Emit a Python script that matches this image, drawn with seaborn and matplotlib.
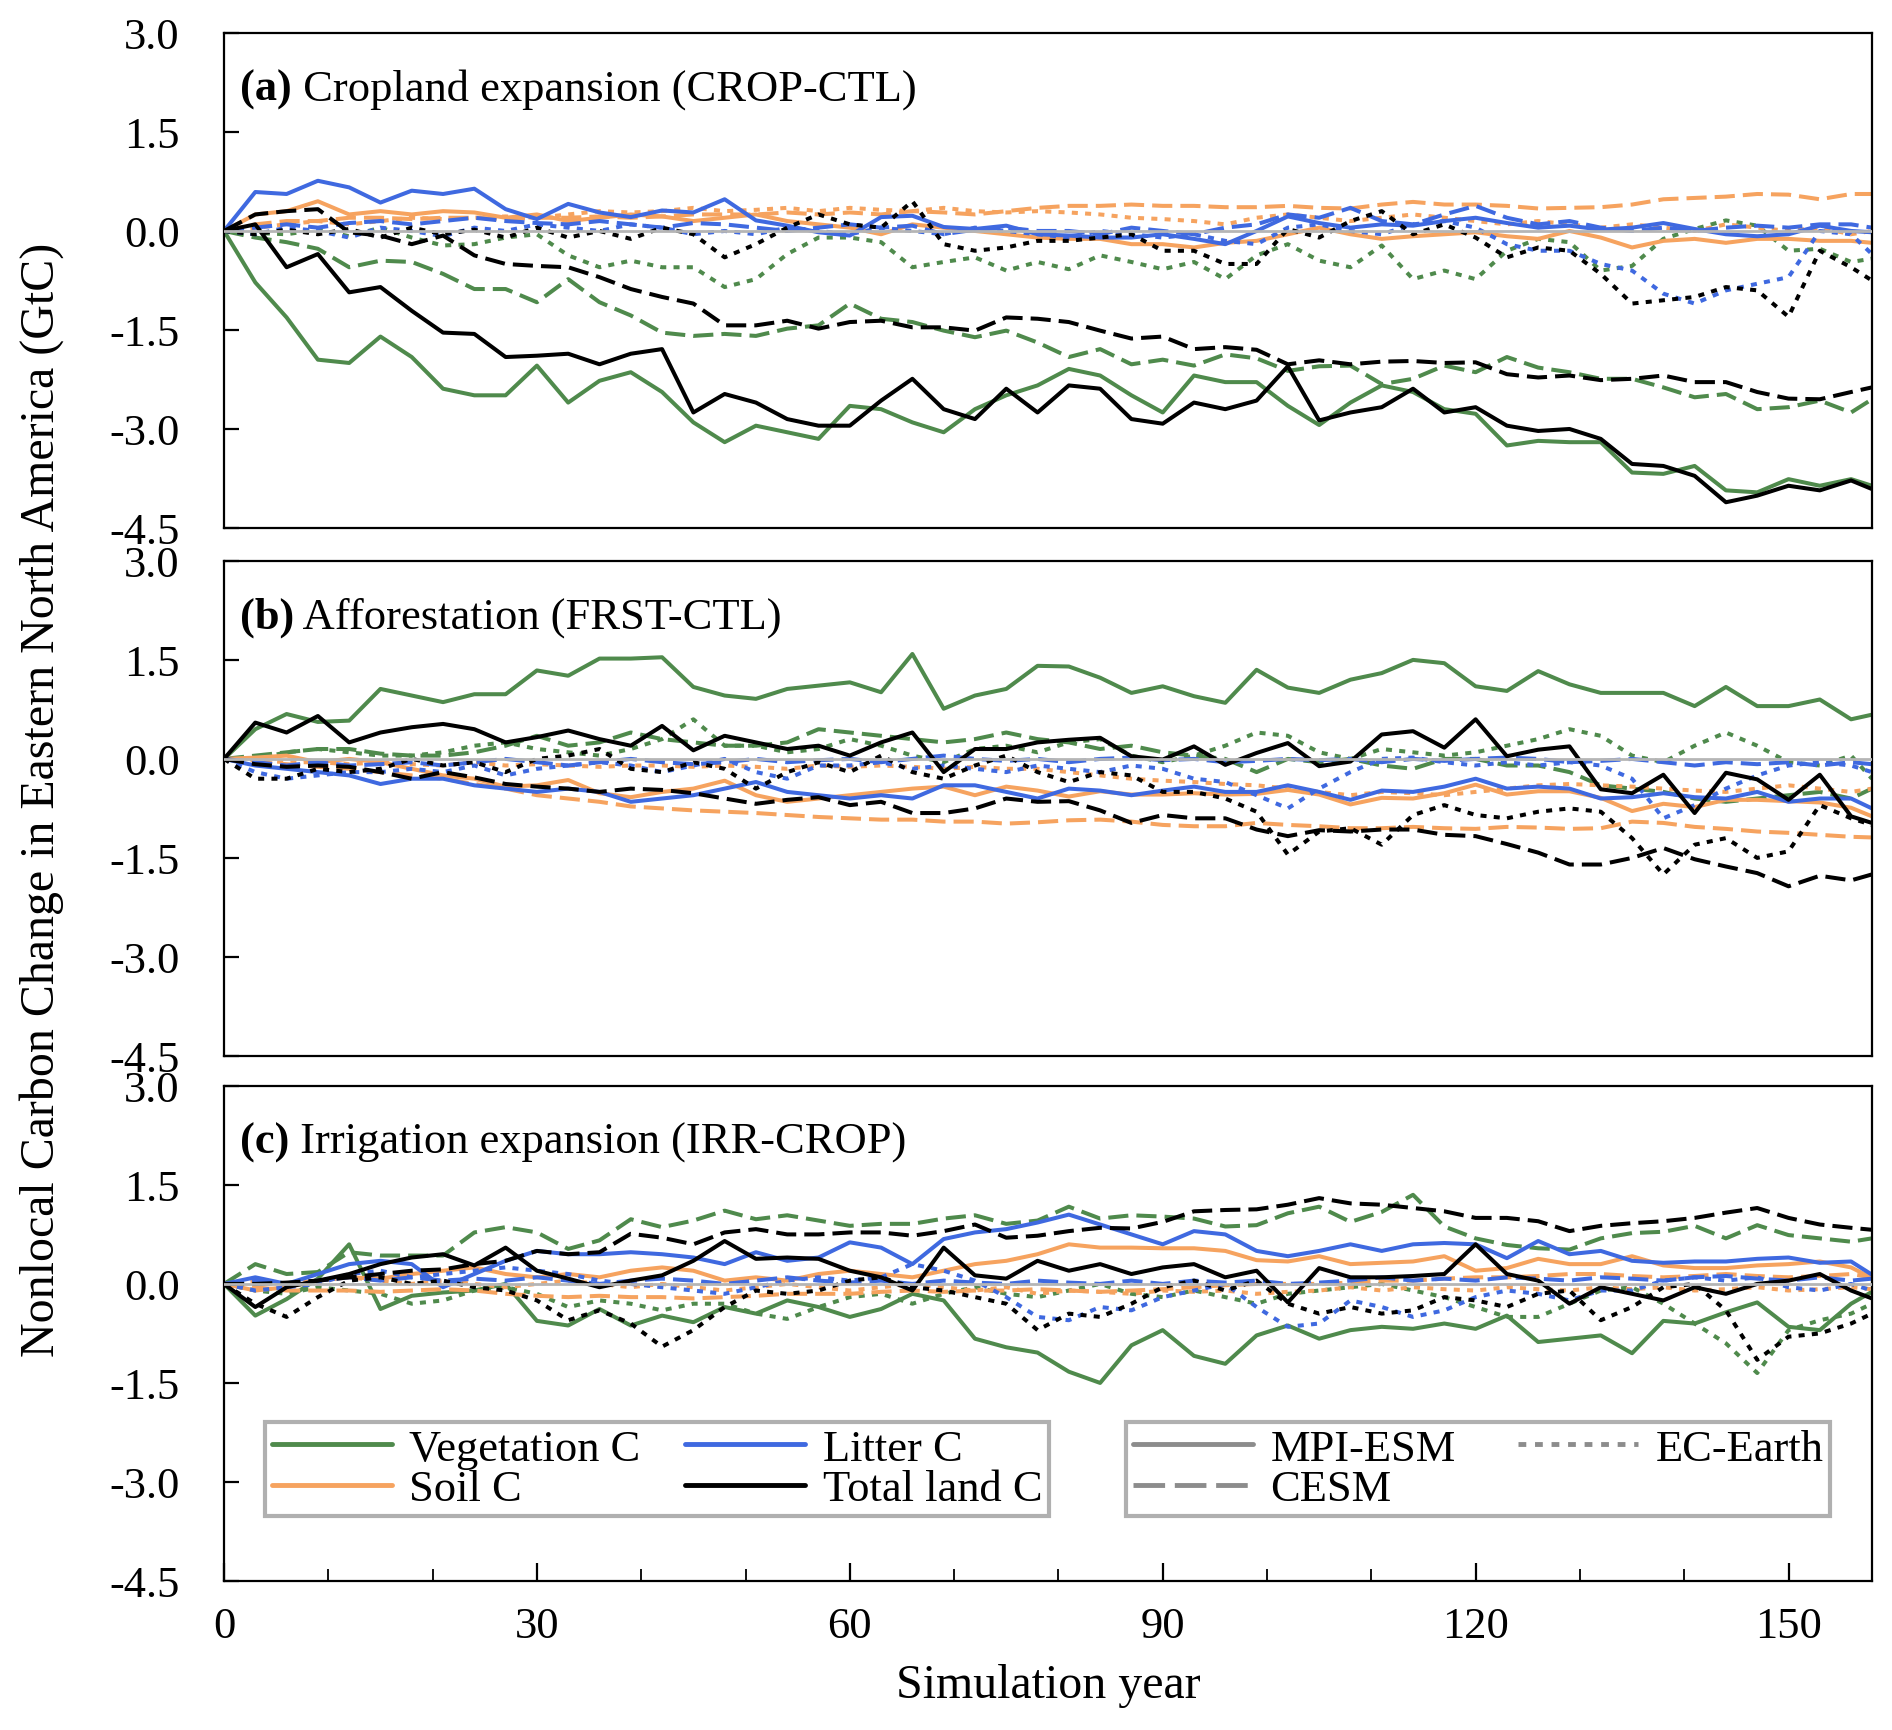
import numpy as np
import pandas as pd
import matplotlib
matplotlib.use("Agg")
import matplotlib.pyplot as plt
from matplotlib.lines import Line2D
from matplotlib.ticker import MultipleLocator, FormatStrFormatter
import seaborn as sns

# ---------------------------------------------------
# Data (every 3 years)
# ---------------------------------------------------
years = list(range(0, 79, 3)) + list(range(81, 157, 3)) + [158]

pools = ["Vegetation C", "Soil C", "Litter C", "Total land C"]
models = ["MPI-ESM", "CESM", "EC-Earth"]

# (a) Cropland expansion (CROP-CTL)
a_veg_mpi = [0, -0.78, -1.31, -1.95, -2.0, -1.6, -1.91, -2.39, -2.49, -2.49, -2.04, -2.6, -2.27, -2.14, -2.44, -2.9, -3.2, -2.95, -3.05, -3.15, -2.65, -2.7, -2.9, -3.05, -2.7, -2.49, -2.34,
             -2.09, -2.19, -2.49, -2.75, -2.19, -2.29, -2.29, -2.65, -2.94, -2.6, -2.34, -2.44, -2.7, -2.77, -3.25, -3.18, -3.2, -3.2, -3.66, -3.68, -3.56, -3.93, -3.96, -3.76, -3.86, -3.76, -3.86]
a_veg_cesm = [0, -0.1, -0.17, -0.27, -0.55, -0.45, -0.47, -0.65, -0.88, -0.88, -1.08, -0.73, -1.08, -1.28, -1.54, -1.59, -1.56, -1.59, -1.48, -1.43, -1.1, -1.33, -1.38, -1.51, -1.61, -1.51, -1.69,
              -1.91, -1.79, -2.02, -1.95, -2.04, -1.87, -1.93, -2.12, -2.05, -2.04, -2.32, -2.24, -2.04, -2.14, -1.91, -2.07, -2.14, -2.24, -2.24, -2.37, -2.52, -2.47, -2.7, -2.67, -2.57, -2.75, -2.55]
a_veg_ec = [0, -0.03, -0.05, 0.02, -0.08, 0.05, -0.1, -0.22, -0.2, -0.1, -0.05, -0.37, -0.55, -0.45, -0.55, -0.55, -0.85, -0.73, -0.35, -0.1, -0.1, -0.17, -0.55, -0.47, -0.4, -0.6, -0.47,
            -0.58, -0.37, -0.47, -0.58, -0.47, -0.73, -0.37, -0.2, -0.45, -0.55, -0.22, -0.73, -0.6, -0.73, -0.3, -0.12, -0.17, -0.6, -0.53, -0.12, 0.03, 0.16, 0.08, -0.3, -0.27, -0.47, -0.42]
a_soil_mpi = [0, 0.25, 0.3, 0.45, 0.25, 0.3, 0.25, 0.3, 0.28, 0.2, 0.25, 0.15, 0.2, 0.25, 0.22, 0.15, 0.2, 0.25, 0.15, 0.1, 0.05, -0.05, 0.1, 0.05, 0.0, -0.05, -0.1,
              -0.12, -0.12, -0.2, -0.2, -0.25, -0.18, -0.15, -0.05, 0.05, -0.05, -0.12, -0.08, -0.05, -0.02, -0.08, -0.12, 0.0, -0.1, -0.25, -0.15, -0.12, -0.18, -0.12, -0.12, -0.15, -0.15, -0.18]
a_soil_cesm = [0, 0.1, 0.15, 0.15, 0.2, 0.2, 0.18, 0.2, 0.2, 0.18, 0.2, 0.2, 0.22, 0.2, 0.22, 0.25, 0.25, 0.25, 0.28, 0.25, 0.28, 0.25, 0.3, 0.28, 0.25, 0.3, 0.35,
               0.38, 0.38, 0.4, 0.38, 0.38, 0.36, 0.36, 0.38, 0.35, 0.34, 0.4, 0.44, 0.4, 0.4, 0.38, 0.34, 0.35, 0.36, 0.4, 0.48, 0.5, 0.52, 0.56, 0.55, 0.48, 0.56, 0.56]
a_soil_ec = [0, 0.05, 0.1, 0.15, 0.1, 0.15, 0.2, 0.18, 0.2, 0.22, 0.2, 0.25, 0.3, 0.28, 0.3, 0.35, 0.3, 0.32, 0.35, 0.3, 0.35, 0.32, 0.3, 0.35, 0.3, 0.28, 0.3,
             0.28, 0.25, 0.2, 0.18, 0.15, 0.1, 0.2, 0.25, 0.2, 0.15, 0.2, 0.25, 0.2, 0.15, 0.1, 0.15, 0.1, 0.05, 0.1, 0.05, 0.0, 0.1, 0.05, 0.0, 0.05, -0.05, 0.0]
a_lit_mpi = [0, 0.59, 0.56, 0.76, 0.66, 0.43, 0.61, 0.56, 0.64, 0.33, 0.18, 0.41, 0.28, 0.21, 0.31, 0.28, 0.48, 0.16, 0.08, -0.02, -0.07, 0.21, 0.23, 0.06, 0.03, 0.08, -0.05,
             -0.07, -0.1, -0.1, -0.05, -0.12, -0.2, 0.0, 0.22, 0.12, 0.05, 0.1, 0.08, 0.15, 0.2, 0.12, 0.05, 0.08, 0.02, 0.05, 0.12, 0.03, -0.05, -0.08, -0.05, 0.08, 0.0, -0.02]
a_lit_cesm = [0, 0.05, 0.1, 0.05, 0.12, 0.15, 0.1, 0.15, 0.2, 0.15, 0.12, 0.1, 0.15, 0.1, 0.05, 0.12, 0.1, 0.05, 0.0, 0.05, 0.1, 0.05, 0.08, -0.05, 0.02, 0.05, 0.0,
              0.0, -0.05, 0.05, 0.0, -0.05, 0.05, 0.1, 0.25, 0.2, 0.35, 0.15, 0.1, 0.25, 0.38, 0.2, 0.1, 0.15, 0.05, 0.0, 0.05, 0.0, 0.05, 0.08, 0.05, 0.1, 0.1, 0.05]
a_lit_ec = [0, -0.05, 0.05, 0.0, -0.1, 0.05, 0.0, -0.08, 0.05, 0.0, 0.1, 0.05, 0.0, 0.1, 0.05, -0.05, 0.0, -0.05, 0.05, 0.0, -0.05, 0.05, 0.0, -0.05, 0.05, 0.0, -0.05,
            -0.1, 0.0, -0.05, -0.1, -0.05, -0.15, -0.2, 0.05, 0.1, 0.0, -0.05, 0.1, 0.15, 0.05, -0.2, -0.3, -0.3, -0.5, -0.6, -0.95, -1.1, -0.9, -0.8, -0.7, 0.0, -0.05, -0.35]
a_tot_mpi = [0, 0.1, -0.55, -0.35, -0.93, -0.85, -1.21, -1.54, -1.56, -1.91, -1.89, -1.86, -2.02, -1.86, -1.79, -2.75, -2.47, -2.6, -2.85, -2.95, -2.95, -2.57, -2.24, -2.7, -2.85, -2.39, -2.75,
             -2.34, -2.39, -2.85, -2.92, -2.6, -2.7, -2.57, -2.05, -2.87, -2.75, -2.67, -2.39, -2.75, -2.67, -2.95, -3.03, -3.0, -3.15, -3.53, -3.56, -3.71, -4.11, -4.01, -3.86, -3.93, -3.78, -3.91]
a_tot_cesm = [0, 0.25, 0.3, 0.33, -0.02, -0.07, -0.2, -0.07, -0.37, -0.5, -0.53, -0.55, -0.7, -0.88, -1.0, -1.1, -1.43, -1.43, -1.36, -1.48, -1.38, -1.36, -1.46, -1.46, -1.51, -1.31, -1.33,
              -1.38, -1.51, -1.63, -1.6, -1.79, -1.76, -1.8, -2.02, -1.96, -2.02, -1.98, -1.97, -2.0, -1.99, -2.17, -2.22, -2.19, -2.26, -2.24, -2.19, -2.29, -2.29, -2.44, -2.54, -2.55, -2.44, -2.37]
a_tot_ec = [0, -0.05, 0.02, -0.05, 0.03, -0.1, 0.05, -0.05, 0.02, -0.1, 0.05, -0.1, 0.0, -0.12, 0.05, -0.05, -0.4, -0.2, 0.05, 0.25, 0.1, 0.05, 0.45, -0.2, -0.3, -0.25, -0.15,
            -0.15, -0.1, -0.05, -0.3, -0.3, -0.5, -0.5, 0.03, -0.1, 0.15, 0.3, -0.05, 0.1, -0.1, -0.4, -0.25, -0.3, -0.65, -1.1, -1.05, -1.0, -0.85, -0.9, -1.3, -0.3, -0.55, -0.75]

# (b) Afforestation (FRST-CTL)
b_veg_mpi = [0, 0.45, 0.68, 0.56, 0.58, 1.06, 0.96, 0.86, 0.98, 0.98, 1.34, 1.26, 1.52, 1.52, 1.54, 1.09, 0.96, 0.91, 1.06, 1.11, 1.16, 1.01, 1.59, 0.76, 0.96, 1.06, 1.41,
             1.4, 1.23, 1.0, 1.1, 0.95, 0.85, 1.35, 1.08, 1.0, 1.2, 1.3, 1.5, 1.45, 1.1, 1.03, 1.33, 1.13, 1.0, 1.0, 1.0, 0.8, 1.09, 0.8, 0.8, 0.9, 0.6, 0.67]
b_veg_cesm = [0, 0.05, 0.1, 0.15, 0.15, 0.08, 0.05, 0.05, 0.1, 0.2, 0.35, 0.2, 0.25, 0.4, 0.3, 0.25, 0.2, 0.2, 0.25, 0.45, 0.4, 0.35, 0.3, 0.25, 0.3, 0.4, 0.3,
              0.25, 0.15, 0.2, 0.1, 0.05, 0.0, -0.2, 0.0, -0.05, 0.0, -0.1, -0.15, 0.0, 0.0, -0.1, -0.1, -0.2, -0.4, -0.45, -0.5, -0.6, -0.65, -0.6, -0.55, -0.5, -0.6, -0.45]
b_veg_ec = [0, 0.0, 0.1, 0.15, 0.1, 0.05, 0.05, 0.1, 0.2, 0.25, 0.15, 0.1, 0.05, 0.15, 0.3, 0.6, 0.2, 0.2, 0.1, 0.15, 0.3, 0.2, 0.05, -0.05, 0.15, 0.2, 0.1,
            0.25, 0.3, 0.05, -0.05, 0.05, 0.2, 0.4, 0.35, 0.1, 0.0, 0.15, 0.1, 0.05, 0.1, 0.2, 0.3, 0.45, 0.35, 0.05, -0.05, 0.2, 0.4, 0.2, -0.05, -0.1, 0.05, -0.3]
b_soil_mpi = [0, 0.02, 0.05, -0.05, 0.0, -0.05, -0.15, -0.25, -0.3, -0.42, -0.4, -0.32, -0.52, -0.58, -0.5, -0.45, -0.33, -0.55, -0.65, -0.6, -0.55, -0.5, -0.45, -0.42, -0.55, -0.42, -0.48,
              -0.57, -0.49, -0.54, -0.54, -0.52, -0.54, -0.53, -0.47, -0.54, -0.69, -0.59, -0.6, -0.52, -0.39, -0.54, -0.49, -0.49, -0.59, -0.79, -0.68, -0.73, -0.62, -0.62, -0.64, -0.66, -0.74, -0.87]
b_soil_cesm = [0, -0.05, -0.08, -0.12, -0.15, -0.2, -0.25, -0.3, -0.38, -0.45, -0.55, -0.6, -0.65, -0.72, -0.75, -0.78, -0.8, -0.82, -0.85, -0.88, -0.9, -0.92, -0.92, -0.95, -0.95, -0.98, -0.96,
               -0.93, -0.92, -0.95, -1.0, -1.02, -1.02, -0.97, -1.0, -1.02, -1.05, -1.05, -1.03, -1.05, -1.06, -1.03, -1.04, -1.06, -1.05, -0.95, -0.97, -1.03, -1.06, -1.1, -1.12, -1.15, -1.18, -1.19]
b_soil_ec = [0, -0.02, -0.05, -0.05, -0.08, -0.05, -0.08, -0.1, -0.05, -0.1, -0.08, -0.1, -0.12, -0.1, -0.1, -0.12, -0.1, -0.12, -0.15, -0.1, -0.12, -0.1, -0.12, -0.15, -0.12, -0.15, -0.15,
             -0.2, -0.25, -0.3, -0.33, -0.35, -0.38, -0.4, -0.45, -0.5, -0.55, -0.5, -0.52, -0.55, -0.5, -0.45, -0.4, -0.38, -0.4, -0.42, -0.45, -0.48, -0.5, -0.45, -0.4, -0.45, -0.5, -0.45]
b_lit_mpi = [0, -0.1, -0.15, -0.2, -0.25, -0.38, -0.3, -0.3, -0.4, -0.45, -0.5, -0.45, -0.5, -0.65, -0.6, -0.55, -0.45, -0.35, -0.5, -0.55, -0.6, -0.55, -0.6, -0.4, -0.4, -0.5, -0.6,
             -0.45, -0.48, -0.55, -0.48, -0.42, -0.5, -0.5, -0.4, -0.5, -0.62, -0.48, -0.5, -0.42, -0.3, -0.45, -0.42, -0.45, -0.6, -0.58, -0.52, -0.58, -0.6, -0.5, -0.65, -0.6, -0.6, -0.75]
b_lit_cesm = [0, -0.05, -0.1, -0.05, -0.1, -0.08, -0.05, -0.1, -0.05, 0.0, -0.05, -0.1, -0.05, 0.0, -0.05, -0.08, -0.05, 0.0, -0.05, -0.02, 0.0, -0.05, 0.0, 0.05, 0.0, -0.03, 0.0,
              -0.05, 0.0, 0.02, -0.02, 0.0, -0.05, -0.03, 0.0, -0.02, 0.0, -0.05, 0.0, -0.03, 0.0, 0.02, 0.0, -0.05, -0.03, 0.0, -0.05, -0.1, -0.05, -0.08, -0.05, -0.1, -0.05, -0.08]
b_lit_ec = [0, -0.2, -0.3, -0.25, -0.2, -0.2, -0.15, -0.2, -0.1, -0.25, -0.15, -0.1, -0.05, -0.1, -0.2, -0.1, 0.0, -0.2, -0.3, -0.1, -0.1, -0.05, -0.15, -0.1, -0.15, -0.2, -0.1,
            -0.15, -0.2, -0.1, -0.15, -0.3, -0.35, -0.55, -0.75, -0.45, -0.2, 0.0, 0.02, -0.05, -0.1, -0.05, -0.1, -0.05, -0.1, -0.3, -0.9, -0.7, -0.45, -0.25, -0.1, -0.05, -0.1, -0.2]
b_tot_mpi = [0, 0.55, 0.4, 0.65, 0.25, 0.4, 0.48, 0.53, 0.45, 0.25, 0.33, 0.43, 0.3, 0.2, 0.5, 0.13, 0.35, 0.25, 0.15, 0.2, 0.05, 0.25, 0.4, -0.2, 0.15, 0.15, 0.25,
             0.29, 0.32, 0.04, -0.01, 0.19, -0.09, 0.09, 0.24, -0.11, -0.04, 0.37, 0.42, 0.17, 0.6, 0.04, 0.14, 0.19, -0.46, -0.52, -0.24, -0.82, -0.21, -0.31, -0.62, -0.24, -0.87, -0.97]
b_tot_cesm = [0, -0.08, -0.12, -0.1, -0.12, -0.2, -0.3, -0.2, -0.28, -0.38, -0.42, -0.45, -0.5, -0.45, -0.47, -0.52, -0.6, -0.68, -0.62, -0.58, -0.7, -0.65, -0.82, -0.82, -0.75, -0.6, -0.65,
              -0.64, -0.78, -0.97, -0.85, -0.9, -0.9, -1.07, -1.17, -1.08, -1.1, -1.07, -1.07, -1.15, -1.17, -1.29, -1.42, -1.6, -1.6, -1.5, -1.35, -1.52, -1.63, -1.73, -1.93, -1.77, -1.84, -1.75]
b_tot_ec = [0, -0.3, -0.3, -0.15, -0.2, -0.15, 0.0, -0.1, -0.05, -0.2, 0.0, 0.05, 0.15, -0.15, -0.2, -0.05, -0.15, -0.45, -0.2, -0.05, -0.2, 0.05, -0.2, -0.3, -0.1, 0.05, -0.2,
            -0.35, -0.2, -0.25, -0.5, -0.5, -0.6, -0.8, -1.45, -1.1, -1.05, -1.3, -0.85, -0.7, -0.85, -0.9, -0.8, -0.75, -0.8, -1.2, -1.75, -1.3, -1.2, -1.5, -1.4, -0.7, -0.9, -1.0]

# (c) Irrigation expansion (IRR-CROP)
c_veg_mpi = [0, -0.48, -0.23, 0.08, 0.6, -0.38, -0.18, -0.13, -0.1, 0.0, -0.56, -0.63, -0.38, -0.63, -0.48, -0.58, -0.35, -0.45, -0.25, -0.35, -0.5, -0.38, -0.15, -0.25, -0.83, -0.96, -1.04,
             -1.33, -1.5, -0.93, -0.7, -1.09, -1.21, -0.78, -0.63, -0.83, -0.7, -0.65, -0.68, -0.6, -0.68, -0.48, -0.88, -0.83, -0.78, -1.05, -0.56, -0.6, -0.43, -0.28, -0.65, -0.7, -0.3, -0.12]
c_veg_cesm = [0, 0.3, 0.15, 0.18, 0.48, 0.43, 0.43, 0.43, 0.78, 0.86, 0.78, 0.53, 0.66, 0.98, 0.86, 0.96, 1.11, 0.98, 1.04, 0.96, 0.88, 0.91, 0.91, 0.99, 1.04, 0.91, 0.96,
              1.17, 0.99, 1.04, 1.02, 0.99, 0.87, 0.89, 1.07, 1.17, 0.94, 1.09, 1.35, 0.87, 0.69, 0.59, 0.54, 0.52, 0.69, 0.77, 0.79, 0.88, 0.69, 0.89, 0.74, 0.69, 0.64, 0.69]
c_veg_ec = [0, -0.1, -0.15, -0.05, -0.1, -0.15, -0.3, -0.25, -0.1, -0.05, -0.15, -0.35, -0.25, -0.3, -0.4, -0.3, -0.3, -0.45, -0.53, -0.35, -0.2, -0.15, -0.3, -0.15, -0.05, -0.15, -0.2,
            -0.1, 0.0, -0.15, -0.2, -0.1, -0.2, -0.3, -0.15, -0.1, -0.05, 0.0, -0.1, -0.2, -0.35, -0.5, -0.5, -0.3, -0.1, -0.05, -0.3, -0.6, -0.9, -1.35, -0.7, -0.55, -0.45, -0.3]
c_soil_mpi = [0, -0.1, -0.05, 0.05, 0.1, 0.08, 0.15, 0.2, 0.25, 0.15, 0.1, 0.15, 0.1, 0.2, 0.25, 0.2, 0.05, 0.1, 0.05, 0.15, 0.2, 0.15, 0.1, 0.2, 0.3, 0.35, 0.45,
              0.6, 0.55, 0.55, 0.54, 0.54, 0.5, 0.36, 0.34, 0.42, 0.3, 0.32, 0.34, 0.42, 0.2, 0.24, 0.38, 0.3, 0.3, 0.42, 0.28, 0.24, 0.24, 0.28, 0.3, 0.34, 0.25, 0.09]
c_soil_cesm = [0, -0.05, -0.1, -0.1, -0.1, -0.12, -0.1, -0.08, -0.1, -0.15, -0.18, -0.2, -0.18, -0.2, -0.2, -0.22, -0.2, -0.18, -0.15, -0.15, -0.15, -0.12, -0.1, -0.12, -0.1, -0.1, -0.08,
               -0.1, -0.12, -0.1, -0.08, -0.05, -0.02, 0.0, 0.0, 0.0, 0.02, 0.05, 0.05, 0.08, 0.1, 0.1, 0.12, 0.15, 0.15, 0.12, 0.1, 0.12, 0.15, 0.12, 0.1, 0.12, 0.15, 0.1]
c_soil_ec = [0, 0.05, 0.0, 0.05, 0.1, 0.05, 0.0, 0.05, 0.0, -0.05, 0.0, 0.05, 0.0, -0.05, 0.0, -0.05, -0.1, -0.05, 0.0, -0.05, -0.1, -0.05, 0.0, -0.05, -0.1, -0.05, -0.15,
             -0.1, -0.12, -0.15, -0.1, -0.12, -0.1, -0.15, -0.12, -0.1, -0.05, -0.1, -0.05, -0.08, -0.1, -0.05, -0.08, -0.1, -0.05, -0.08, -0.05, -0.1, -0.08, -0.05, -0.1, -0.08, -0.05, -0.08]
c_lit_mpi = [0, 0.1, 0.0, 0.15, 0.3, 0.35, 0.3, -0.05, 0.15, 0.35, 0.5, 0.45, 0.45, 0.48, 0.45, 0.4, 0.3, 0.48, 0.35, 0.4, 0.63, 0.55, 0.3, 0.68, 0.78, 0.83, 0.93,
             1.05, 0.9, 0.75, 0.6, 0.8, 0.75, 0.5, 0.42, 0.5, 0.6, 0.5, 0.6, 0.62, 0.6, 0.39, 0.65, 0.45, 0.5, 0.35, 0.32, 0.34, 0.34, 0.38, 0.4, 0.32, 0.34, 0.14]
c_lit_cesm = [0, 0.05, 0.0, 0.05, 0.1, 0.05, 0.1, 0.05, 0.08, 0.05, 0.1, 0.05, 0.0, 0.05, 0.08, 0.05, 0.0, 0.05, 0.1, 0.05, 0.02, 0.05, 0.0, 0.05, 0.02, 0.0, 0.05,
              0.02, 0.0, 0.05, 0.0, 0.05, 0.02, 0.05, 0.0, 0.02, 0.05, 0.1, 0.05, 0.08, 0.05, 0.1, 0.08, 0.05, 0.1, 0.08, 0.05, 0.1, 0.12, 0.08, 0.05, 0.1, 0.05, 0.08]
c_lit_ec = [0, -0.1, -0.05, 0.0, 0.15, 0.2, 0.1, 0.15, 0.2, 0.25, 0.2, 0.15, 0.05, 0.0, -0.05, -0.1, -0.15, -0.05, 0.05, 0.1, 0.05, 0.1, 0.3, 0.2, 0.05, -0.2, -0.5,
            -0.55, -0.35, -0.4, -0.2, -0.1, 0.0, -0.35, -0.65, -0.6, -0.25, -0.35, -0.5, -0.4, -0.2, -0.1, -0.15, -0.25, -0.1, -0.1, 0.05, 0.1, 0.05, 0.1, -0.05, -0.1, 0.0, -0.1]
c_tot_mpi = [0, -0.35, -0.05, 0.05, 0.15, 0.3, 0.4, 0.45, 0.28, 0.55, 0.2, 0.08, -0.05, 0.05, 0.13, 0.35, 0.65, 0.38, 0.4, 0.38, 0.2, 0.1, -0.1, 0.55, 0.13, 0.08, 0.35,
             0.2, 0.3, 0.15, 0.25, 0.3, 0.1, 0.2, -0.28, 0.24, 0.1, 0.1, 0.12, 0.15, 0.6, 0.15, 0.05, -0.3, -0.05, -0.15, -0.25, -0.05, -0.15, 0.0, 0.05, 0.15, -0.1, -0.22]
c_tot_cesm = [0, 0.0, 0.02, 0.05, 0.1, 0.15, 0.2, 0.22, 0.3, 0.35, 0.5, 0.45, 0.48, 0.76, 0.7, 0.6, 0.78, 0.83, 0.75, 0.75, 0.78, 0.78, 0.73, 0.8, 0.9, 0.7, 0.73,
              0.8, 0.85, 0.84, 0.94, 1.1, 1.12, 1.13, 1.2, 1.3, 1.22, 1.2, 1.15, 1.1, 1.0, 1.0, 0.95, 0.8, 0.88, 0.92, 0.95, 1.0, 1.08, 1.15, 1.0, 0.9, 0.85, 0.82]
c_tot_ec = [0, -0.3, -0.5, -0.2, 0.05, 0.1, 0.0, 0.05, -0.05, -0.1, -0.25, -0.55, -0.4, -0.6, -0.95, -0.7, -0.35, -0.1, -0.15, -0.1, 0.05, 0.1, -0.05, -0.1, -0.2, -0.3, -0.7,
            -0.45, -0.5, -0.3, -0.05, 0.05, -0.1, 0.05, -0.3, -0.45, -0.35, -0.45, -0.4, -0.2, -0.25, -0.35, -0.15, -0.1, -0.55, -0.35, -0.05, 0.0, -0.4, -1.15, -0.8, -0.75, -0.6, -0.45]

panel_tags = ["(a)", "(b)", "(c)"]
panel_titles = ["Cropland expansion (CROP-CTL)", "Afforestation (FRST-CTL)",
                "Irrigation expansion (IRR-CROP)"]

# ---------------------------------------------------
# Style
# ---------------------------------------------------
sns.set_style("ticks")
plt.rcParams["font.family"] = ["Liberation Serif", "DejaVu Serif"]
plt.rcParams["axes.unicode_minus"] = False
for key in ["text.color", "axes.labelcolor", "xtick.color", "ytick.color", "axes.edgecolor"]:
    plt.rcParams[key] = "black"

pool_colors = {"Vegetation C": "#4f8a4c", "Soil C": "#f6a35f",
               "Litter C": "#3f69e0", "Total land C": "#000000"}
model_dashes = {"MPI-ESM": "", "CESM": (5.0, 2.0), "EC-Earth": (1.5, 1.8)}


def panel_frame(series):
    parts = []
    for (pool, model), vals in series.items():
        parts.append(pd.DataFrame({"year": years, "value": vals,
                                   "pool": pool, "model": model}))
    return pd.concat(parts, ignore_index=True)


frames = [
    panel_frame({("Vegetation C", "MPI-ESM"): a_veg_mpi, ("Vegetation C", "CESM"): a_veg_cesm,
                 ("Vegetation C", "EC-Earth"): a_veg_ec,
                 ("Soil C", "MPI-ESM"): a_soil_mpi, ("Soil C", "CESM"): a_soil_cesm,
                 ("Soil C", "EC-Earth"): a_soil_ec,
                 ("Litter C", "MPI-ESM"): a_lit_mpi, ("Litter C", "CESM"): a_lit_cesm,
                 ("Litter C", "EC-Earth"): a_lit_ec,
                 ("Total land C", "MPI-ESM"): a_tot_mpi, ("Total land C", "CESM"): a_tot_cesm,
                 ("Total land C", "EC-Earth"): a_tot_ec}),
    panel_frame({("Vegetation C", "MPI-ESM"): b_veg_mpi, ("Vegetation C", "CESM"): b_veg_cesm,
                 ("Vegetation C", "EC-Earth"): b_veg_ec,
                 ("Soil C", "MPI-ESM"): b_soil_mpi, ("Soil C", "CESM"): b_soil_cesm,
                 ("Soil C", "EC-Earth"): b_soil_ec,
                 ("Litter C", "MPI-ESM"): b_lit_mpi, ("Litter C", "CESM"): b_lit_cesm,
                 ("Litter C", "EC-Earth"): b_lit_ec,
                 ("Total land C", "MPI-ESM"): b_tot_mpi, ("Total land C", "CESM"): b_tot_cesm,
                 ("Total land C", "EC-Earth"): b_tot_ec}),
    panel_frame({("Vegetation C", "MPI-ESM"): c_veg_mpi, ("Vegetation C", "CESM"): c_veg_cesm,
                 ("Vegetation C", "EC-Earth"): c_veg_ec,
                 ("Soil C", "MPI-ESM"): c_soil_mpi, ("Soil C", "CESM"): c_soil_cesm,
                 ("Soil C", "EC-Earth"): c_soil_ec,
                 ("Litter C", "MPI-ESM"): c_lit_mpi, ("Litter C", "CESM"): c_lit_cesm,
                 ("Litter C", "EC-Earth"): c_lit_ec,
                 ("Total land C", "MPI-ESM"): c_tot_mpi, ("Total land C", "CESM"): c_tot_cesm,
                 ("Total land C", "EC-Earth"): c_tot_ec}),
]

# ---------------------------------------------------
# Figure
# ---------------------------------------------------
fig = plt.figure(figsize=(18.92, 17.31), dpi=100)
bottoms = [0.6944, 0.3894, 0.0861]
axes = [fig.add_axes([0.1184, b, 0.8710, 0.286]) for b in bottoms]

for i, ax in enumerate(axes):
    sns.lineplot(data=frames[i], x="year", y="value", hue="pool", style="model",
                 hue_order=pools, style_order=models, palette=pool_colors,
                 dashes=model_dashes, estimator=None, sort=False,
                 linewidth=2.9, legend=False, ax=ax)
    ax.axhline(0, color="#b5b5b5", lw=2.0, zorder=3)

    ax.set_xlim(0, 158)
    ax.set_ylim(-4.5, 3.0)
    ax.set_yticks([3.0, 1.5, 0.0, -1.5, -3.0, -4.5])
    ax.yaxis.set_major_formatter(FormatStrFormatter("%.1f"))
    ax.tick_params(axis="y", direction="in", length=11, width=1.6, pad=32,
                   labelsize=32, right=False)
    for sp in ax.spines.values():
        sp.set_visible(True)
        sp.set_linewidth(1.6)
        sp.set_color("black")
    ax.set_xlabel("")
    ax.set_ylabel("")

    t = ax.text(0.0097, 0.866, panel_tags[i], transform=ax.transAxes,
                fontsize=32, fontweight="bold", va="baseline", ha="left")
    ax.annotate(" " + panel_titles[i], xy=(1, 0), xycoords=t,
                va="bottom", ha="left", fontsize=32)

    if i < 2:
        ax.tick_params(axis="x", which="both", length=0, labelbottom=False)

ax_c = axes[2]
ax_c.set_xticks([0, 30, 60, 90, 120, 150])
ax_c.xaxis.set_minor_locator(MultipleLocator(10))
ax_c.tick_params(axis="x", which="major", direction="in", length=13, width=1.6,
                 pad=18, labelsize=32, top=False)
ax_c.tick_params(axis="x", which="minor", direction="in", length=8.5, width=1.3,
                 top=False)
ax_c.set_xlabel("Simulation year", fontsize=34.5, labelpad=12)

fig.text(0.022, 0.538, "Nonlocal Carbon Change in Eastern North America (GtC)",
         rotation=90, va="center", ha="center", fontsize=34.5)

# Legends
pool_handles = [Line2D([], [], color=pool_colors[p], lw=3.5) for p in pools]
leg1 = ax_c.legend(handles=pool_handles, labels=pools, ncol=2, loc="upper left",
                   bbox_to_anchor=(0.0249, 0.3206), borderaxespad=0, fontsize=32,
                   frameon=True, fancybox=False, edgecolor="#b0b0b0", framealpha=1,
                   handlelength=2.7, handletextpad=0.4, columnspacing=1.0,
                   labelspacing=0.0, borderpad=0.15)
leg1.get_frame().set_linewidth(3)
ax_c.add_artist(leg1)

model_handles = [Line2D([], [], color="#8c8c8c", lw=3.5),
                 Line2D([], [], color="#8c8c8c", lw=3.5, dashes=(6.5, 2.0)),
                 Line2D([], [], color="#8c8c8c", lw=3.5, dashes=(1.6, 1.8))]
leg2 = ax_c.legend(handles=model_handles, labels=models, ncol=2, loc="upper left",
                   bbox_to_anchor=(0.5473, 0.3206), borderaxespad=0, fontsize=32,
                   frameon=True, fancybox=False, edgecolor="#b0b0b0", framealpha=1,
                   handlelength=2.7, handletextpad=0.4, columnspacing=1.4,
                   labelspacing=0.0, borderpad=0.15)
leg2.get_frame().set_linewidth(3)

fig.savefig("out.png", dpi=100)
